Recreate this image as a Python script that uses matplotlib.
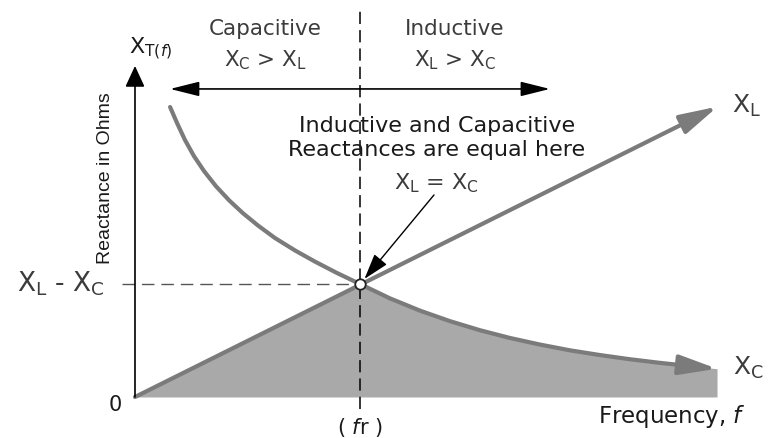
import numpy as np
import matplotlib
matplotlib.use("Agg")
import matplotlib.pyplot as plt

# reactance curves, frequency in units of fr, reactance in units of XL at fr
xl_freq = [0.0, 2.59]
xl_react = [0.0, 2.57]
xc_freq = [0.156, 0.187, 0.222, 0.262, 0.307, 0.360, 0.418, 0.480, 0.547,
           0.622, 0.711, 0.800, 0.898, 1.0, 1.133, 1.267, 1.4, 1.533,
           1.667, 1.8, 1.933, 2.067, 2.2, 2.333, 2.436, 2.587]
xc_react = [2.566, 2.424, 2.275, 2.132, 1.999, 1.865, 1.741, 1.626, 1.517,
            1.407, 1.297, 1.198, 1.097, 1.0, 0.873, 0.764, 0.671, 0.591,
            0.522, 0.464, 0.413, 0.371, 0.334, 0.302, 0.280, 0.250]
f_res = 1.0
x_res = 1.0

# colours
curve_col = '#7b7b7b'
fill_col = '#a9a9a9'
text_col = '#1a1a1a'
top_col = '#3c3c3c'

plt.rcParams['font.family'] = ['DejaVu Sans']
plt.rcParams['mathtext.default'] = 'regular'

fig = plt.figure(figsize=(7.78, 4.39), dpi=100)
ax = fig.add_axes([0, 0, 1, 1])
ax.set_xlim(-0.6, 2.858)
ax.set_ylim(-0.363, 3.522)
ax.axis('off')

# shaded area under the lower of the two curves
xc_freq = np.array(xc_freq)
xc_react = np.array(xc_react)
right = xc_freq >= f_res
ax.fill_between(np.r_[0.0, xc_freq[right]], np.r_[0.0, xc_react[right]],
                color=fill_col, lw=0, zorder=1)

# XL line with arrow
ax.annotate('', xy=(xl_freq[1], xl_react[1]), xytext=(xl_freq[0], xl_react[0]),
            arrowprops=dict(arrowstyle='-|>,head_length=2.3,head_width=0.6',
                            color=curve_col, lw=3.0, shrinkA=0, shrinkB=0),
            zorder=3)

# XC curve with arrow on last segment
ax.plot(xc_freq[:-1], xc_react[:-1], color=curve_col, lw=3.0,
        solid_capstyle='round', solid_joinstyle='round', zorder=3)
ax.annotate('', xy=(xc_freq[-1], xc_react[-1]), xytext=(xc_freq[-2], xc_react[-2]),
            arrowprops=dict(arrowstyle='-|>,head_length=2.3,head_width=0.6',
                            color=curve_col, lw=3.0, shrinkA=0, shrinkB=0),
            zorder=3)

# axes with arrows
ax.annotate('', xy=(0, 2.93), xytext=(0, 0),
            arrowprops=dict(arrowstyle='-|>,head_length=1.3,head_width=0.6',
                            color='black', lw=1.2, shrinkA=0, shrinkB=0), zorder=4)
ax.annotate('', xy=(2.862, 0), xytext=(0, 0),
            arrowprops=dict(arrowstyle='-|>,head_length=1.3,head_width=0.5',
                            color='black', lw=1.2, shrinkA=0, shrinkB=0), zorder=4)

# dashed guides
ax.plot([f_res, f_res], [-0.106, 3.434], color='black', lw=1.1,
        dashes=[8, 4], zorder=2)
ax.plot([-0.058, f_res], [x_res, x_res], color='#555555', lw=1.0,
        dashes=[9, 5], zorder=2)

# double arrow for capacitive / inductive regions
ax.annotate('', xy=(0.156, 2.726), xytext=(f_res, 2.726),
            arrowprops=dict(arrowstyle='-|>,head_length=1.8,head_width=0.45',
                            color='black', lw=1.2, shrinkA=0, shrinkB=0))
ax.annotate('', xy=(1.844, 2.726), xytext=(f_res, 2.726),
            arrowprops=dict(arrowstyle='-|>,head_length=1.8,head_width=0.45',
                            color='black', lw=1.2, shrinkA=0, shrinkB=0))

# pointer to resonance
ax.annotate('', xy=(1.02, 1.045), xytext=(1.329, 1.788),
            arrowprops=dict(arrowstyle='-|>,head_length=1.6,head_width=0.5',
                            color='black', lw=1.0, shrinkA=0, shrinkB=0), zorder=5)

# resonance point
ax.plot([f_res], [x_res], 'o', ms=7.5, mfc='white', mec='#222222', mew=1.3, zorder=6)

# texts
ax.text(0.578, 3.265, 'Capacitive', ha='center', va='center', fontsize=15.5, color=top_col)
ax.text(0.578, 2.99, r'X$_C$ > X$_L$', ha='center', va='center', fontsize=15.5, color=top_col)
ax.text(1.422, 3.265, 'Inductive', ha='center', va='center', fontsize=15.5, color=top_col)
ax.text(1.422, 2.99, r'X$_L$ > X$_C$', ha='center', va='center', fontsize=15.5, color=top_col)
ax.text(0.07, 3.09, r'X$_{T(\mathit{f})}$', ha='center', va='center', fontsize=16, color=text_col)
ax.text(-0.133, 1.947, 'Reactance in Ohms', ha='center', va='center', rotation=90,
        fontsize=14, family='Liberation Sans', color=text_col)
ax.text(1.342, 2.407, 'Inductive and Capacitive', ha='center', va='center',
        fontsize=16, color=text_col)
ax.text(1.342, 2.195, 'Reactances are equal here', ha='center', va='center',
        fontsize=16, color=text_col)
ax.text(1.342, 1.903, r'X$_L$ = X$_C$', ha='center', va='center', fontsize=16, color=top_col)
ax.text(2.653, 2.584, r'X$_L$', ha='left', va='center', fontsize=18, color=top_col)
ax.text(2.658, 0.265, r'X$_C$', ha='left', va='center', fontsize=18, color=top_col)
ax.text(-0.133, 1.009, r'X$_L$ - X$_C$', ha='right', va='center', fontsize=19, color=top_col)
ax.text(-0.089, -0.062, '0', ha='center', va='center', fontsize=15, color=text_col)
ax.text(f_res, -0.265, r'( $\mathit{f}$r )', ha='center', va='center', fontsize=15, color=text_col)
ax.text(2.387, -0.168, r'Frequency, $\mathit{f}$', ha='center', va='center',
        fontsize=16.5, color=text_col)

fig.savefig('out.png', dpi=100)
